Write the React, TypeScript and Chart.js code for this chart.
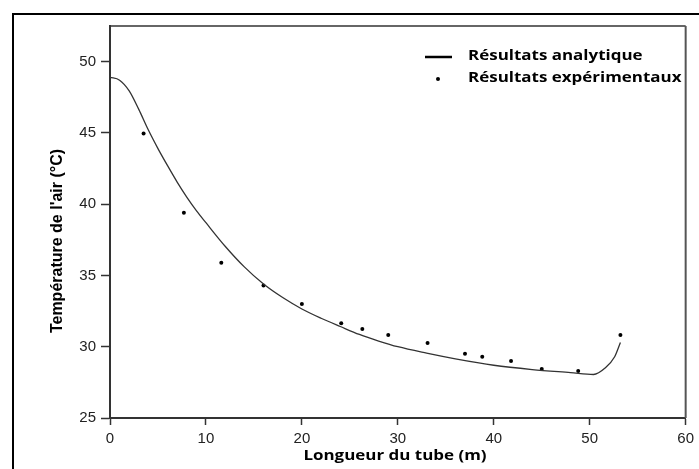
import React, { useEffect, useRef } from "react";
import { Chart, registerables } from "chart.js";

Chart.register(...registerables);

const analyticX = [0, 1, 2, 3, 4, 5, 6, 7, 8, 9, 10, 12, 14, 16, 18, 20, 22, 24, 26, 28, 30, 33, 36, 40, 44, 48, 50.4, 51.6, 52.6, 53.2];
const analyticY = [48.9, 48.7, 47.95, 46.65, 45.2, 43.9, 42.7, 41.55, 40.5, 39.55, 38.7, 37.05, 35.6, 34.4, 33.45, 32.65, 32.0, 31.42, 30.86, 30.4, 30.0, 29.55, 29.15, 28.7, 28.4, 28.18, 28.05, 28.5, 29.3, 30.3];

const expX = [3.5, 7.7, 11.6, 16.0, 20.0, 24.1, 26.3, 29.0, 33.1, 37.0, 38.8, 41.8, 45.0, 48.8, 53.2];
const expY = [44.95, 39.4, 35.9, 34.3, 33.0, 31.65, 31.25, 30.83, 30.27, 29.5, 29.3, 29.0, 28.44, 28.3, 30.83];

const seriesLabels = ["Résultats analytique", "Résultats expérimentaux"];
const xTitle = "Longueur du tube (m)";
const yTitle = "Température de l'air (°C)";

const xMin = 0, xMax = 60, xStep = 10;
const yMin = 25, yMax = 52.5, yStep = 5;

const titleFont = "'Open Sans'";
const stretch = 1.13;

const extras = {
  id: "extras",
  afterDraw(chart: any) {
    const ctx = chart.ctx;
    const a = chart.chartArea;
    ctx.save();
    // outer frame
    ctx.strokeStyle = "#000";
    ctx.lineWidth = 2;
    ctx.beginPath();
    ctx.moveTo(13, 469);
    ctx.lineTo(13, 14);
    ctx.lineTo(699, 14);
    ctx.stroke();
    // top and right plot borders
    ctx.strokeStyle = "#333";
    ctx.lineWidth = 1.5;
    ctx.beginPath();
    ctx.moveTo(a.left, a.top);
    ctx.lineTo(a.right, a.top);
    ctx.stroke();
    ctx.strokeStyle = "#555";
    ctx.lineWidth = 2;
    ctx.beginPath();
    ctx.moveTo(a.right, a.top);
    ctx.lineTo(a.right, a.bottom);
    ctx.stroke();
    // legend
    ctx.fillStyle = "#000";
    ctx.strokeStyle = "#000";
    ctx.lineWidth = 2.5;
    ctx.beginPath();
    ctx.moveTo(425, 57);
    ctx.lineTo(452, 57);
    ctx.stroke();
    ctx.beginPath();
    ctx.arc(438, 79, 2, 0, Math.PI * 2);
    ctx.fill();
    ctx.font = `bold 15px ${titleFont}`;
    ctx.textAlign = "left";
    ctx.textBaseline = "middle";
    ctx.save();
    ctx.translate(468, 0);
    ctx.scale(stretch, 1);
    ctx.fillText(seriesLabels[0], 0, 56);
    ctx.fillText(seriesLabels[1], 0, 78);
    ctx.restore();
    // x title
    ctx.save();
    ctx.textAlign = "center";
    ctx.translate(395, 456);
    ctx.scale(stretch, 1);
    ctx.fillText(xTitle, 0, 0);
    ctx.restore();
    // y title
    ctx.textAlign = "center";
    ctx.font = "bold 16px 'Liberation Sans'";
    ctx.translate(58, 241);
    ctx.rotate(-Math.PI / 2);
    ctx.fillText(yTitle, 0, 0);
    ctx.restore();
  },
};

export default function App() {
  const ref = useRef<HTMLCanvasElement | null>(null);
  useEffect(() => {
    document.body.style.margin = "0";
    const chart = new Chart(ref.current as HTMLCanvasElement, {
      type: "scatter",
      data: {
        datasets: [
          {
            label: seriesLabels[0],
            data: analyticX.map((x, i) => ({ x, y: analyticY[i] })),
            showLine: true,
            pointRadius: 0,
            borderColor: "#333",
            borderWidth: 1.3,
            cubicInterpolationMode: "monotone",
          } as any,
          {
            label: seriesLabels[1],
            data: expX.map((x, i) => ({ x, y: expY[i] })),
            showLine: false,
            pointRadius: 2,
            pointBorderWidth: 0,
            backgroundColor: "#000",
            borderColor: "#000",
          },
        ],
      },
      options: {
        animation: false,
        responsive: false,
        layout: { padding: { left: 0, top: 26, right: 10, bottom: 0 } },
        plugins: { legend: { display: false }, tooltip: { enabled: false } },
        scales: {
          x: {
            type: "linear",
            min: xMin,
            max: xMax,
            ticks: { stepSize: xStep, includeBounds: false, color: "#222", font: { family: "'Liberation Sans'", size: 15 }, padding: 5 },
            grid: { display: true, drawOnChartArea: false, drawTicks: true, tickLength: 7, tickColor: "#333", tickWidth: 1.5 },
            border: { display: true, color: "#333", width: 2 },
            afterFit: (s: any) => { s.height = 51; },
          },
          y: {
            type: "linear",
            min: yMin,
            max: yMax,
            ticks: { stepSize: yStep, includeBounds: false, color: "#222", font: { family: "'Liberation Sans'", size: 15 }, padding: 5 },
            grid: { display: true, drawOnChartArea: false, drawTicks: true, tickLength: 9, tickColor: "#333", tickWidth: 1.5 },
            border: { display: true, color: "#333", width: 2 },
            afterFit: (s: any) => { s.width = 110; },
          },
        },
      },
      plugins: [extras],
    });
    return () => chart.destroy();
  }, []);
  return (
    <div style={{ width: 699, height: 469, background: "#fff" }}>
      <canvas ref={ref} width={699} height={469} />
    </div>
  );
}
